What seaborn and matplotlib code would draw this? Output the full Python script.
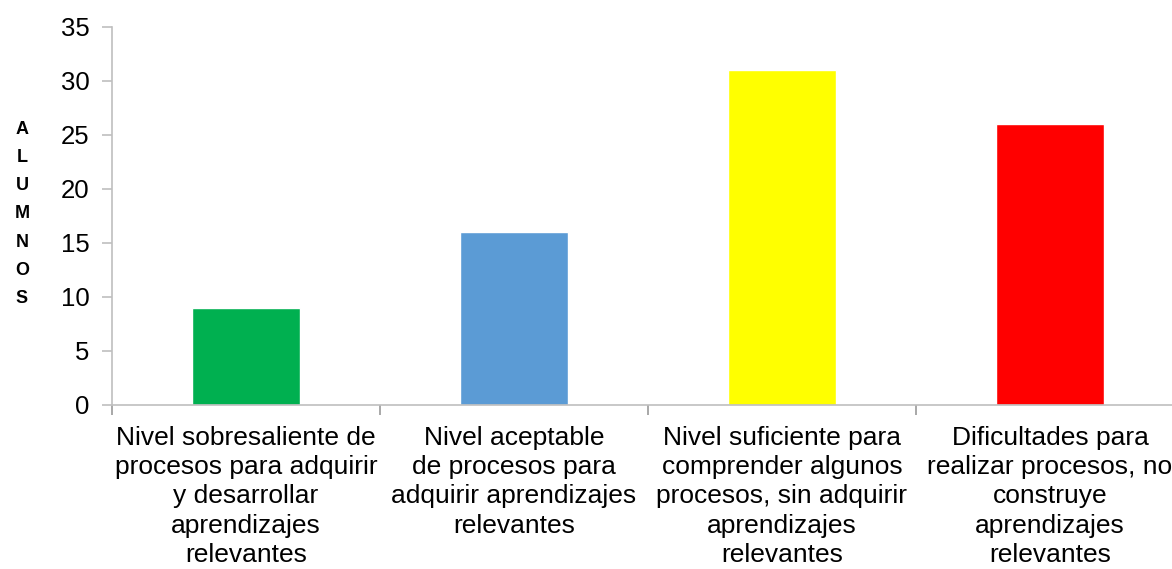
import matplotlib
matplotlib.use("Agg")
import matplotlib.pyplot as plt
import seaborn as sns
import pandas as pd
import numpy as np
from matplotlib.ticker import FixedLocator, MultipleLocator

categories = [
    "Nivel sobresaliente de\nprocesos para adquirir\ny desarrollar\naprendizajes\nrelevantes",
    "Nivel aceptable\nde procesos para\nadquirir aprendizajes\nrelevantes",
    "Nivel suficiente para\ncomprender algunos\nprocesos, sin adquirir\naprendizajes\nrelevantes",
    "Dificultades para\nrealizar procesos, no\nconstruye\naprendizajes\nrelevantes",
]
values = [9, 16, 31, 26]
colors = ["#00B050", "#5B9BD5", "#FFFF00", "#FF0000"]
ylabel_text = "ALUMNOS"

sns.set_theme(style="white")
plt.rcParams["font.family"] = ["Liberation Sans", "DejaVu Sans"]

df = pd.DataFrame({"cat": categories, "val": values})

fig = plt.figure(figsize=(11.72, 5.69), dpi=100)
ax = fig.add_axes([112 / 1172, 1 - 405 / 569, (1184 - 112) / 1172, (405 - 27) / 569])

sns.barplot(data=df, x="cat", y="val", hue="cat", palette=colors, legend=False,
            width=0.4, saturation=1, ax=ax)

ax.set_xlim(-0.5, 3.5)
ax.set_ylim(0, 35)
ax.yaxis.set_major_locator(MultipleLocator(5))
ax.set_xlabel("")
ax.set_ylabel("")

for s in ["top", "right"]:
    ax.spines[s].set_visible(False)
for s in ["left", "bottom"]:
    ax.spines[s].set_color("#BFBFBF")
    ax.spines[s].set_linewidth(1.2)

ax.tick_params(axis="y", which="major", direction="out", length=7, width=1.2,
               color="#BFBFBF", labelsize=18.5, labelcolor="black", pad=9, left=True)
ax.tick_params(axis="x", which="major", length=0, labelsize=19, labelcolor="black", pad=15)
ax.xaxis.set_minor_locator(FixedLocator([-0.5, 0.5, 1.5, 2.5, 3.5]))
ax.tick_params(axis="x", which="minor", direction="out", length=7, width=1.2,
               color="#999999", bottom=True)
for lbl in ax.get_xticklabels():
    lbl.set_linespacing(1.28)
    lbl.set_horizontalalignment("center")

fig.text(22 / 1172, 1 - 214 / 569, "\n".join(ylabel_text), ha="center", va="center",
         fontsize=13, fontweight="bold", linespacing=1.85, color="black")

fig.savefig("out.png", dpi=100, facecolor="white")
